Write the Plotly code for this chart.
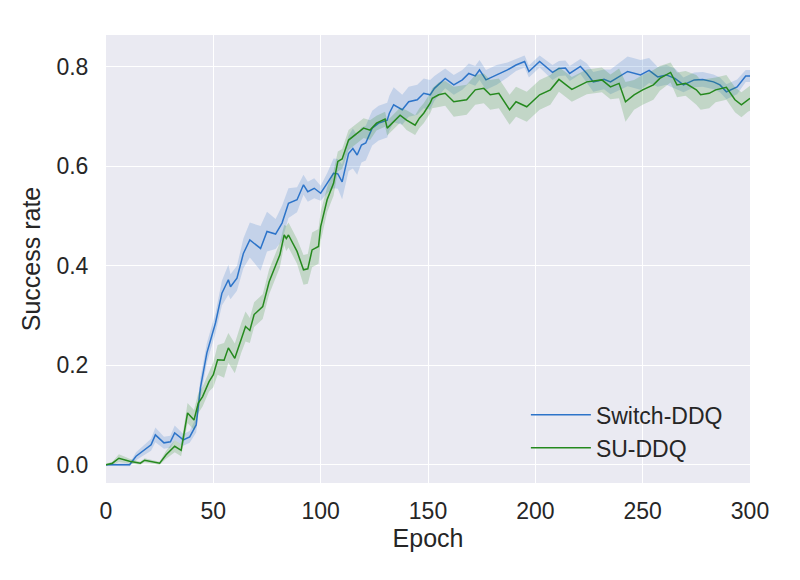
import numpy as np
import plotly.graph_objects as go

# ---------------- data ----------------
switch_epoch = [0, 11, 14, 18, 21, 23, 27, 30, 32, 36, 39, 42, 44, 47, 51, 54, 57, 58, 61, 64,
                67, 72, 75, 79, 82, 85, 89, 92, 94, 97, 100, 103, 106, 108, 110, 113, 115, 117, 119, 121,
                124, 127, 131, 132, 134, 138, 141, 145, 148, 151, 153, 158, 162, 166, 169, 172, 174, 177, 182, 187,
                191, 195, 197, 202, 208, 211, 214, 216, 221, 224, 227, 232, 235, 243, 249, 253, 257, 261, 265, 269,
                274, 278, 283, 286, 289, 294, 298, 300]
switch_mean = [0.000, 0.000, 0.017, 0.030, 0.040, 0.060, 0.044, 0.046, 0.064, 0.050, 0.056, 0.080, 0.155, 0.225, 0.285, 0.345, 0.372, 0.358, 0.375, 0.425,
               0.452, 0.435, 0.469, 0.464, 0.486, 0.526, 0.533, 0.563, 0.549, 0.556, 0.546, 0.566, 0.586, 0.585, 0.569, 0.626, 0.636, 0.623, 0.643, 0.647,
               0.677, 0.687, 0.693, 0.707, 0.724, 0.714, 0.730, 0.734, 0.747, 0.744, 0.757, 0.777, 0.764, 0.774, 0.787, 0.782, 0.794, 0.774, 0.784, 0.794,
               0.804, 0.811, 0.791, 0.811, 0.789, 0.797, 0.798, 0.787, 0.801, 0.787, 0.770, 0.775, 0.770, 0.791, 0.784, 0.793, 0.780, 0.784, 0.777, 0.764,
               0.774, 0.775, 0.770, 0.764, 0.750, 0.760, 0.782, 0.782]
switch_spread = [0.002, 0.003, 0.008, 0.010, 0.012, 0.015, 0.012, 0.012, 0.015, 0.012, 0.012, 0.015, 0.020, 0.020, 0.020, 0.025, 0.030, 0.025, 0.025, 0.030,
                 0.035, 0.045, 0.040, 0.030, 0.035, 0.030, 0.025, 0.020, 0.020, 0.020, 0.015, 0.020, 0.030, 0.030, 0.035, 0.035, 0.040, 0.040, 0.035, 0.035,
                 0.035, 0.035, 0.035, 0.035, 0.035, 0.030, 0.030, 0.030, 0.030, 0.030, 0.025, 0.020, 0.020, 0.020, 0.020, 0.020, 0.020, 0.020, 0.020, 0.015,
                 0.012, 0.012, 0.012, 0.012, 0.015, 0.015, 0.015, 0.015, 0.015, 0.020, 0.020, 0.020, 0.025, 0.030, 0.030, 0.025, 0.020, 0.020, 0.020, 0.015,
                 0.015, 0.015, 0.015, 0.015, 0.015, 0.015, 0.012, 0.012]

su_epoch = [0, 3, 6, 11, 16, 18, 25, 28, 32, 35, 36, 38, 41, 43, 45, 48, 50, 52, 55, 57,
            60, 63, 65, 67, 69, 73, 76, 81, 83, 84, 85, 89, 92, 94, 96, 99, 100, 103, 106, 108,
            110, 113, 115, 120, 123, 126, 130, 131, 137, 140, 144, 146, 148, 151, 152, 155, 158, 162, 168, 172,
            176, 179, 183, 188, 191, 196, 202, 207, 211, 217, 224, 231, 235, 239, 242, 246, 250, 255, 258, 263,
            266, 270, 275, 277, 281, 284, 289, 293, 296, 299, 300]
su_mean = [0.000, 0.003, 0.013, 0.007, 0.003, 0.009, 0.003, 0.020, 0.037, 0.029, 0.054, 0.104, 0.090, 0.124, 0.137, 0.167, 0.181, 0.211, 0.210, 0.235,
           0.214, 0.255, 0.278, 0.270, 0.302, 0.318, 0.368, 0.422, 0.462, 0.455, 0.462, 0.429, 0.392, 0.394, 0.432, 0.439, 0.479, 0.533, 0.566, 0.610,
           0.615, 0.653, 0.660, 0.677, 0.673, 0.687, 0.695, 0.677, 0.703, 0.693, 0.683, 0.697, 0.707, 0.727, 0.737, 0.744, 0.747, 0.730, 0.734, 0.754,
           0.757, 0.744, 0.747, 0.714, 0.730, 0.720, 0.744, 0.754, 0.775, 0.755, 0.770, 0.774, 0.760, 0.767, 0.730, 0.744, 0.754, 0.764, 0.777, 0.789,
           0.764, 0.767, 0.754, 0.744, 0.747, 0.754, 0.759, 0.734, 0.724, 0.735, 0.737]
su_spread = [0.002, 0.003, 0.008, 0.005, 0.003, 0.004, 0.003, 0.008, 0.012, 0.012, 0.015, 0.020, 0.020, 0.020, 0.020, 0.020, 0.025, 0.030, 0.035, 0.030,
             0.030, 0.030, 0.030, 0.025, 0.025, 0.025, 0.025, 0.025, 0.020, 0.025, 0.025, 0.025, 0.030, 0.030, 0.035, 0.035, 0.030, 0.025, 0.025, 0.020,
             0.020, 0.020, 0.020, 0.020, 0.020, 0.015, 0.015, 0.015, 0.015, 0.020, 0.020, 0.020, 0.020, 0.020, 0.020, 0.025, 0.025, 0.030, 0.030, 0.030,
             0.030, 0.030, 0.030, 0.030, 0.030, 0.030, 0.030, 0.030, 0.025, 0.025, 0.025, 0.025, 0.025, 0.030, 0.040, 0.030, 0.030, 0.030, 0.025, 0.020,
             0.025, 0.025, 0.030, 0.030, 0.030, 0.025, 0.025, 0.025, 0.025, 0.025, 0.025]

x_ticks = [0, 50, 100, 150, 200, 250, 300]
y_ticks = [0.0, 0.2, 0.4, 0.6, 0.8]
y_tick_labels = ["0.0", "0.2", "0.4", "0.6", "0.8"]

series = [
    ("Switch-DDQ", switch_epoch, switch_mean, switch_spread, "#2d74c9", "rgba(45,116,201,0.2)"),
    ("SU-DDQ", su_epoch, su_mean, su_spread, "#25891e", "rgba(37,137,30,0.2)"),
]

fig = go.Figure()
for name, ep, mean, spread, color, fillc in series:
    m = np.array(mean)
    s = np.array(spread)
    ep = list(ep)
    fig.add_trace(go.Scatter(
        x=ep + ep[::-1], y=list(m + s) + list((m - s)[::-1]),
        fill="toself", fillcolor=fillc, line=dict(width=0),
        hoverinfo="skip", showlegend=False))
    fig.add_trace(go.Scatter(
        x=ep, y=mean, mode="lines", name=name,
        line=dict(color=color, width=1.5)))

font_family = "Arial, Liberation Sans, sans-serif"
fig.update_layout(
    width=792, height=572,
    margin=dict(l=98, r=50, t=27, b=97),
    paper_bgcolor="white", plot_bgcolor="#EAEAF2",
    font=dict(family=font_family, color="#262626", size=23),
    showlegend=True,
    legend=dict(x=0.652, y=0.20, xanchor="left", yanchor="top",
                bgcolor="rgba(0,0,0,0)", font=dict(size=23, color="#262626"),
                itemwidth=60, tracegroupgap=0),
    xaxis=dict(range=[0, 300], tickvals=x_ticks, showgrid=True, gridcolor="white",
               gridwidth=1.3, zeroline=False, showline=False,
               ticks="outside", ticklen=7, tickcolor="rgba(0,0,0,0)",
               tickfont=dict(size=23),
               title=dict(text="Epoch", font=dict(size=25), standoff=2)),
    yaxis=dict(range=[-0.0368, 0.8643], tickvals=y_ticks, ticktext=y_tick_labels,
               showgrid=True, gridcolor="white", gridwidth=1.3, zeroline=False,
               showline=False, ticks="outside", ticklen=12,
               tickcolor="rgba(0,0,0,0)", tickfont=dict(size=23),
               title=dict(text="Success rate", font=dict(size=25), standoff=8)),
)

fig.write_html("out.html")
